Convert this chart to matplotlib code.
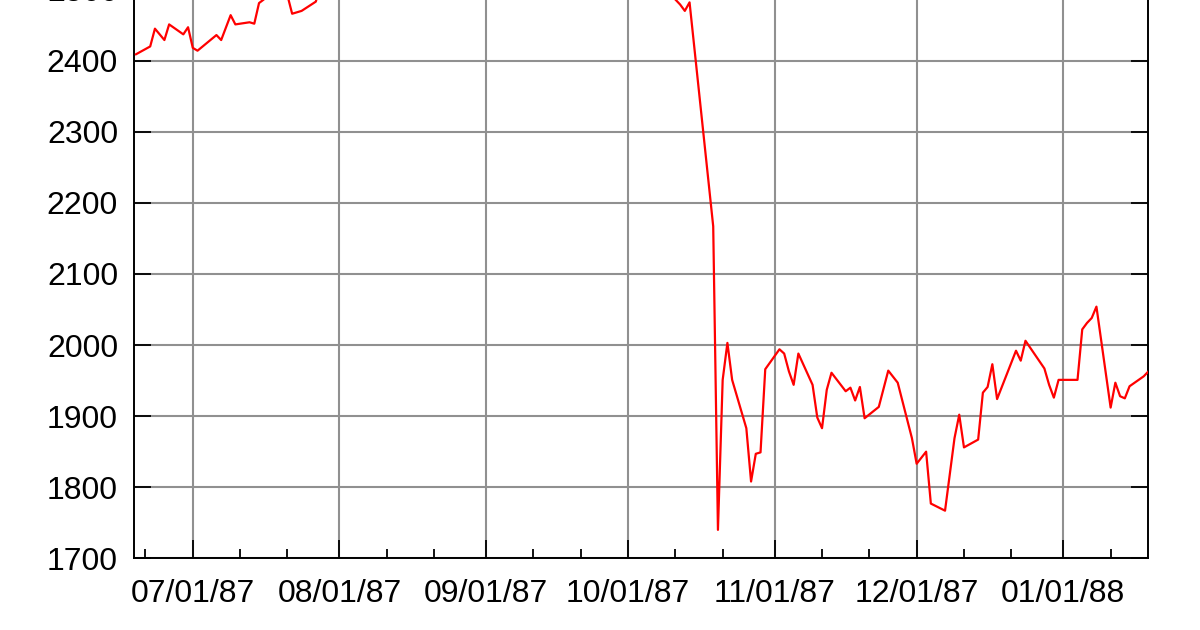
import datetime as dt
import matplotlib
matplotlib.use("Agg")
import matplotlib.pyplot as plt
import matplotlib.dates as mdates

# Dow Jones closes (values above ~2485 are cut off in the picture, estimated)
datas = [
    "1987-06-19", "1987-06-22", "1987-06-23", "1987-06-25", "1987-06-26",
    "1987-06-29", "1987-06-30", "1987-07-01", "1987-07-02", "1987-07-06",
    "1987-07-07", "1987-07-09", "1987-07-10", "1987-07-13", "1987-07-14",
    "1987-07-15", "1987-07-16", "1987-07-17", "1987-07-20", "1987-07-21",
    "1987-07-22", "1987-07-24", "1987-07-27", "1987-07-28", "1987-07-31",
    "1987-08-07", "1987-08-14", "1987-08-21", "1987-08-25", "1987-08-31",
    "1987-09-04", "1987-09-11", "1987-09-18", "1987-09-25", "1987-10-01",
    "1987-10-05", "1987-10-08", "1987-10-09", "1987-10-12", "1987-10-13",
    "1987-10-14", "1987-10-19", "1987-10-20", "1987-10-21", "1987-10-22",
    "1987-10-23", "1987-10-26", "1987-10-27", "1987-10-28", "1987-10-29",
    "1987-10-30", "1987-11-02", "1987-11-03", "1987-11-04", "1987-11-05",
    "1987-11-06", "1987-11-09", "1987-11-10", "1987-11-11", "1987-11-12",
    "1987-11-13", "1987-11-16", "1987-11-17", "1987-11-18", "1987-11-19",
    "1987-11-20", "1987-11-23", "1987-11-25", "1987-11-27", "1987-11-30",
    "1987-12-01", "1987-12-03", "1987-12-04", "1987-12-07", "1987-12-09",
    "1987-12-10", "1987-12-11", "1987-12-14", "1987-12-15", "1987-12-16",
    "1987-12-17", "1987-12-18", "1987-12-22", "1987-12-23", "1987-12-24",
    "1987-12-28", "1987-12-29", "1987-12-30", "1987-12-31", "1988-01-04",
    "1988-01-05", "1988-01-06", "1988-01-07", "1988-01-08", "1988-01-11",
    "1988-01-12", "1988-01-13", "1988-01-14", "1988-01-15", "1988-01-18",
    "1988-01-19",
]
fechamento = [
    2409, 2420, 2445, 2429, 2451,
    2437, 2447, 2418, 2414, 2436,
    2429, 2464, 2451, 2454, 2452,
    2481, 2486, 2510, 2502, 2492,
    2466, 2470, 2483, 2505, 2572,
    2592, 2691, 2709, 2722, 2662,
    2561, 2608, 2525, 2570, 2639,
    2640, 2520, 2500, 2479, 2470,
    2482, 2167, 1740, 1951, 2003,
    1951, 1883, 1808, 1847, 1849,
    1966, 1994, 1988, 1963, 1944,
    1988, 1944, 1898, 1883, 1937,
    1961, 1935, 1940, 1922, 1941,
    1897, 1913, 1964, 1947, 1869,
    1833, 1850, 1777, 1767, 1869,
    1902, 1856, 1867, 1933, 1941,
    1973, 1924, 1992, 1978, 2006,
    1967, 1944, 1926, 1951, 1951,
    2022, 2031, 2038, 2054, 1912,
    1947, 1928, 1925, 1942, 1956,
    1963,
]

x = [dt.datetime.strptime(d, "%Y-%m-%d") for d in datas]

plt.rcParams["font.family"] = ["Liberation Sans", "DejaVu Sans"]

fig = plt.figure(figsize=(12, 6.3), dpi=100)
# the top of the chart is cut off in the reference, so the axes run past the figure
ax = fig.add_axes([0.1117, 0.1138, 0.8452, 1.2413])

ax.plot(x, fechamento, color="#ff0000", linewidth=1.6, zorder=3)

ax.set_ylim(1700, 2800)
ax.set_xlim(dt.datetime(1987, 6, 18, 14), dt.datetime(1988, 1, 18, 23))
ax.set_yticks(range(1700, 2900, 100))

ax.xaxis.set_major_locator(mdates.MonthLocator())
ax.xaxis.set_major_formatter(mdates.DateFormatter("%m/%d/%y"))
ax.xaxis.set_minor_locator(mdates.DayLocator(bymonthday=[11, 21]))

ax.grid(True, which="major", color="#909090", linewidth=1.5)
ax.tick_params(axis="both", which="major", direction="in", labelsize=23,
               width=1.3, color="black")
ax.tick_params(axis="y", which="major", length=12, left=True, right=True, pad=11.5)
ax.tick_params(axis="x", which="major", length=13, top=True, pad=15)
ax.tick_params(axis="x", which="minor", direction="in", length=6.5, width=1.3, top=True)

for s in ax.spines.values():
    s.set_linewidth(1.4)
    s.set_color("black")

fig.savefig("out.png", dpi=100)
